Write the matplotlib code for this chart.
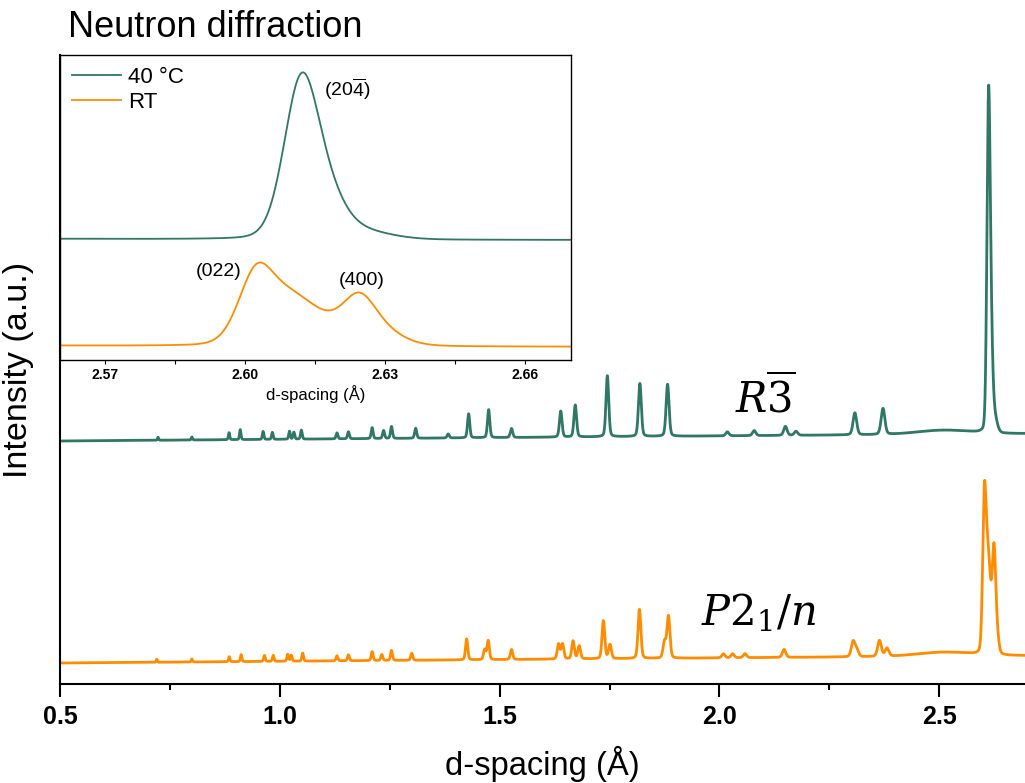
import numpy as np
import matplotlib
matplotlib.use("Agg")
import matplotlib.pyplot as plt
from matplotlib.ticker import MultipleLocator, FormatStrFormatter

plt.rcParams['font.family'] = ['Liberation Sans', 'DejaVu Sans']

GREEN = '#2f7864'
ORANGE = '#ff8c00'

# d-spacing grid (Angstrom)
d = np.arange(0.5, 2.6955, 0.0002)

# background (both patterns), broad hump near 2.5 A
bg_slope = 3.4
hump_pos, hump_h, hump_w = 2.51, 4.0, 0.14

# 40 C (R-3) reflections: position, height above background
green_pos = [0.723, 0.800, 0.8845, 0.910, 0.962, 0.983, 1.022, 1.032, 1.049, 1.130,
             1.156, 1.210, 1.236, 1.254, 1.309, 1.383, 1.4295, 1.475, 1.527, 1.639,
             1.672, 1.745, 1.819, 1.882, 2.018, 2.079, 2.150, 2.174, 2.308, 2.372]
green_h = [3, 3, 7, 10, 8, 7, 8, 7, 9, 6,
           7, 11, 8, 12, 10, 4, 24, 28, 9, 26,
           32, 61, 53, 52, 4, 5, 9, 4, 22, 26]
# (20-4) peak, resolved in the inset: position, height, fwhm, lorentz fraction
green_zoom_pos = [2.6120, 2.6175, 2.6230]
green_zoom_h = [316, 68, 20]
green_zoom_w = [0.0086, 0.0090, 0.0160]
green_zoom_eta = [0.15, 0.0, 0.0]
green_offset = 222

# RT (P2_1/n) reflections
orange_pos = [0.720, 0.800, 0.885, 0.912, 0.965, 0.985, 1.018, 1.026, 1.052, 1.130,
              1.156, 1.210, 1.232, 1.254, 1.300, 1.425, 1.466, 1.474, 1.527, 1.634,
              1.643, 1.667, 1.681, 1.736, 1.751, 1.818, 1.875, 1.884, 2.009, 2.030,
              2.058, 2.147, 2.304, 2.312, 2.364, 2.381]
orange_h = [3, 3, 5, 7, 6, 6, 7, 6, 8, 5,
            6, 9, 6, 10, 7, 21, 10, 19, 10, 15,
            15, 18, 13, 38, 14, 49, 16, 42, 4, 4,
            4, 8, 15, 7, 16, 8]
# (022) / (400) region
orange_zoom_pos = [2.6025, 2.6090, 2.6140, 2.6185, 2.6245, 2.6305]
orange_zoom_h = [155, 60, 45, 15, 95, 18]
orange_zoom_w = [0.0090, 0.0090, 0.0100, 0.0120, 0.0090, 0.0100]
orange_zoom_eta = [0.2, 0.0, 0.0, 0.0, 0.3, 0.0]
orange_offset = 0

resolution = 0.0042  # fwhm / d


def pseudo_voigt(x, c, h, w, eta=0.0):
    u = 4 * ((x - c) / w) ** 2
    return h * (eta / (1 + u) + (1 - eta) * np.exp(-np.log(2) * u))


def pattern(pos, hts, zpos, zh, zw, zeta, offset):
    y = offset + bg_slope * (d - 0.5) + pseudo_voigt(d, hump_pos, hump_h, hump_w)
    for c, h in zip(pos, hts):
        y += pseudo_voigt(d, c, h, resolution * c, 0.25)
    for c, h, w, e in zip(zpos, zh, zw, zeta):
        y += pseudo_voigt(d, c, h, w, e)
    return y


y_green = pattern(green_pos, green_h, green_zoom_pos, green_zoom_h,
                  green_zoom_w, green_zoom_eta, green_offset)
y_orange = pattern(orange_pos, orange_h, orange_zoom_pos, orange_zoom_h,
                   orange_zoom_w, orange_zoom_eta, orange_offset)

W, H = 1025, 783
fig = plt.figure(figsize=(W / 100, H / 100), dpi=100)

ax = fig.add_axes([60 / W, 99 / H, 965 / W, 629 / H])
ax.plot(d, y_green, color=GREEN, lw=2.0)
ax.plot(d, y_orange, color=ORANGE, lw=2.0)
ax.set_xlim(0.5, 2.695)
ax.set_ylim(-21, 608)
ax.spines['top'].set_visible(False)
ax.spines['right'].set_visible(False)
ax.spines['left'].set_linewidth(1.5)
ax.spines['bottom'].set_linewidth(1.5)
ax.set_yticks([])
ax.xaxis.set_major_locator(MultipleLocator(0.5))
ax.xaxis.set_minor_locator(MultipleLocator(0.25))
ax.tick_params(axis='x', which='major', length=9, width=1.5, pad=6, labelsize=18)
ax.tick_params(axis='x', which='minor', length=4.5, width=1.5)
for lab in ax.get_xticklabels():
    lab.set_fontweight('bold')
ax.set_xlabel('d-spacing (Å)', fontsize=23.5)
ax.xaxis.set_label_coords(0.5, -0.098)
ax.set_ylabel('Intensity (a.u.)', fontsize=24.5)
ax.yaxis.set_label_coords(-0.027, 0.5)

ax.text(2.036, 251, r'$R\overline{3}$', fontsize=30, math_fontfamily='dejavuserif',
        ha='left', va='baseline')
ax.text(1.959, 38, r'$P2_1/n$', fontsize=30, math_fontfamily='dejavuserif',
        ha='left', va='baseline')

fig.text(68 / W, 1 - 37 / H, 'Neutron diffraction', fontsize=26, va='baseline')

# inset
axi = fig.add_axes([60 / W, 423 / H, 511 / W, 305 / H])
axi.plot(d, y_green, color=GREEN, lw=1.3, label='40 °C')
axi.plot(d, y_orange, color=ORANGE, lw=1.3, label='RT')
axi.set_xlim(2.5604, 2.6699)
axi.set_ylim(-20, 614)
axi.set_yticks([])
axi.set_xticks([2.57, 2.60, 2.63, 2.66])
axi.set_xticks([2.585, 2.615, 2.645], minor=True)
axi.xaxis.set_major_formatter(FormatStrFormatter('%.2f'))
axi.tick_params(axis='x', which='both', length=3, width=0.8, pad=3, labelsize=10)
for lab in axi.get_xticklabels():
    lab.set_fontweight('bold')
for s in axi.spines.values():
    s.set_linewidth(1.0)
axi.set_xlabel('d-spacing (Å)', fontsize=12, labelpad=2)
axi.legend(loc='upper left', bbox_to_anchor=(0.0, 1.0), frameon=False, fontsize=16,
           handlelength=2.2, handletextpad=0.3, labelspacing=0.15, borderaxespad=0.15)
axi.text(2.6219, 544, r'$\mathregular{(20\overline{4})}$', fontsize=14, ha='center', va='center')
axi.text(2.5944, 163, '(022)', fontsize=14, ha='center', va='center')
axi.text(2.6251, 146, '(400)', fontsize=14, ha='center', va='center')

fig.savefig('out.png', dpi=100)
